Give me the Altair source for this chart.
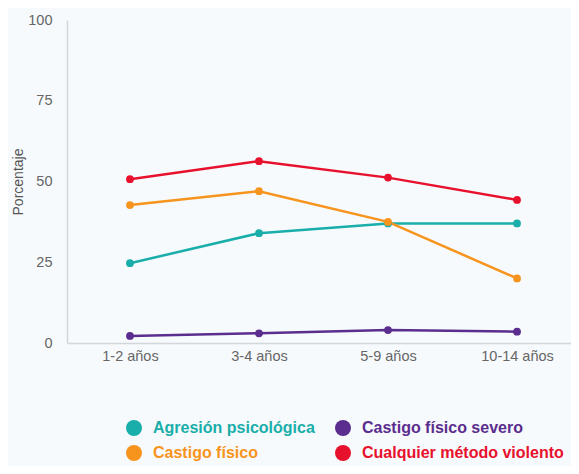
import altair as alt
import pandas as pd

ages = ["1-2 años", "3-4 años", "5-9 años", "10-14 años"]
series = ["Agresión psicológica", "Castigo físico", "Castigo físico severo", "Cualquier método violento"]
colors = ["#1aaeaa", "#f7941d", "#5b2d8e", "#e8112d"]

agresion = [24.7, 34.0, 37.0, 37.0]
castigo = [42.7, 47.0, 37.5, 20.0]
severo = [2.2, 3.0, 4.0, 3.5]
cualquier = [50.7, 56.3, 51.2, 44.3]

values = [agresion, castigo, severo, cualquier]
rows = []
for s, vals in zip(series, values):
    for a, v in zip(ages, vals):
        rows.append({"Edad": a, "Serie": s, "Porcentaje": v})
df = pd.DataFrame(rows)

color_scale = alt.Scale(domain=series, range=colors)
FONT = "Liberation Sans"

base = alt.Chart(df).encode(
    x=alt.X("Edad:N", sort=ages, title=None,
            scale=alt.Scale(type="point", padding=0.488, range=[0, 513]),
            axis=alt.Axis(labelAngle=0, ticks=False, domainColor="#d3d7dc", domainWidth=1.5,
                          labelColor="#666666", labelFontSize=14.5, labelPadding=6, labelFont=FONT)),
    y=alt.Y("Porcentaje:Q", scale=alt.Scale(domain=[0, 100]),
            axis=alt.Axis(values=[0, 25, 50, 75, 100], ticks=False, grid=False, domainColor="#d3d7dc",
                          domainWidth=1.5, labelColor="#666666", labelFontSize=14.5, labelPadding=15,
                          labelFont=FONT, titleFont=FONT,
                          titleFontSize=14, titleFontWeight="normal", titleColor="#555555",
                          titlePadding=2)),
    color=alt.Color("Serie:N", scale=color_scale, sort=series,
                    legend=alt.Legend(orient="none", legendX=59, legendY=400, columns=2, title=None,
                                      symbolType="circle", symbolSize=256, symbolStrokeWidth=0,
                                      symbolOpacity=1,
                                      labelFont=FONT, labelFontSize=16, labelFontWeight="bold",
                                      labelColor={"expr": "scale('color', datum.value)"},
                                      labelOffset=11, columnPadding=20, rowPadding=9, labelLimit=300)),
)

lines = base.mark_line(strokeWidth=2.5)
points = base.mark_point(filled=True, size=60, opacity=1)

chart = (lines + points).properties(
    width=504, height=323,
    background="#f7fafc",
    autosize=alt.AutoSizeParams(type="none"),
    padding={"left": 59, "top": 12, "right": 0, "bottom": 123},
).configure_view(stroke=None)

chart.save("out.html", embed_options={"renderer": "svg", "actions": False})
